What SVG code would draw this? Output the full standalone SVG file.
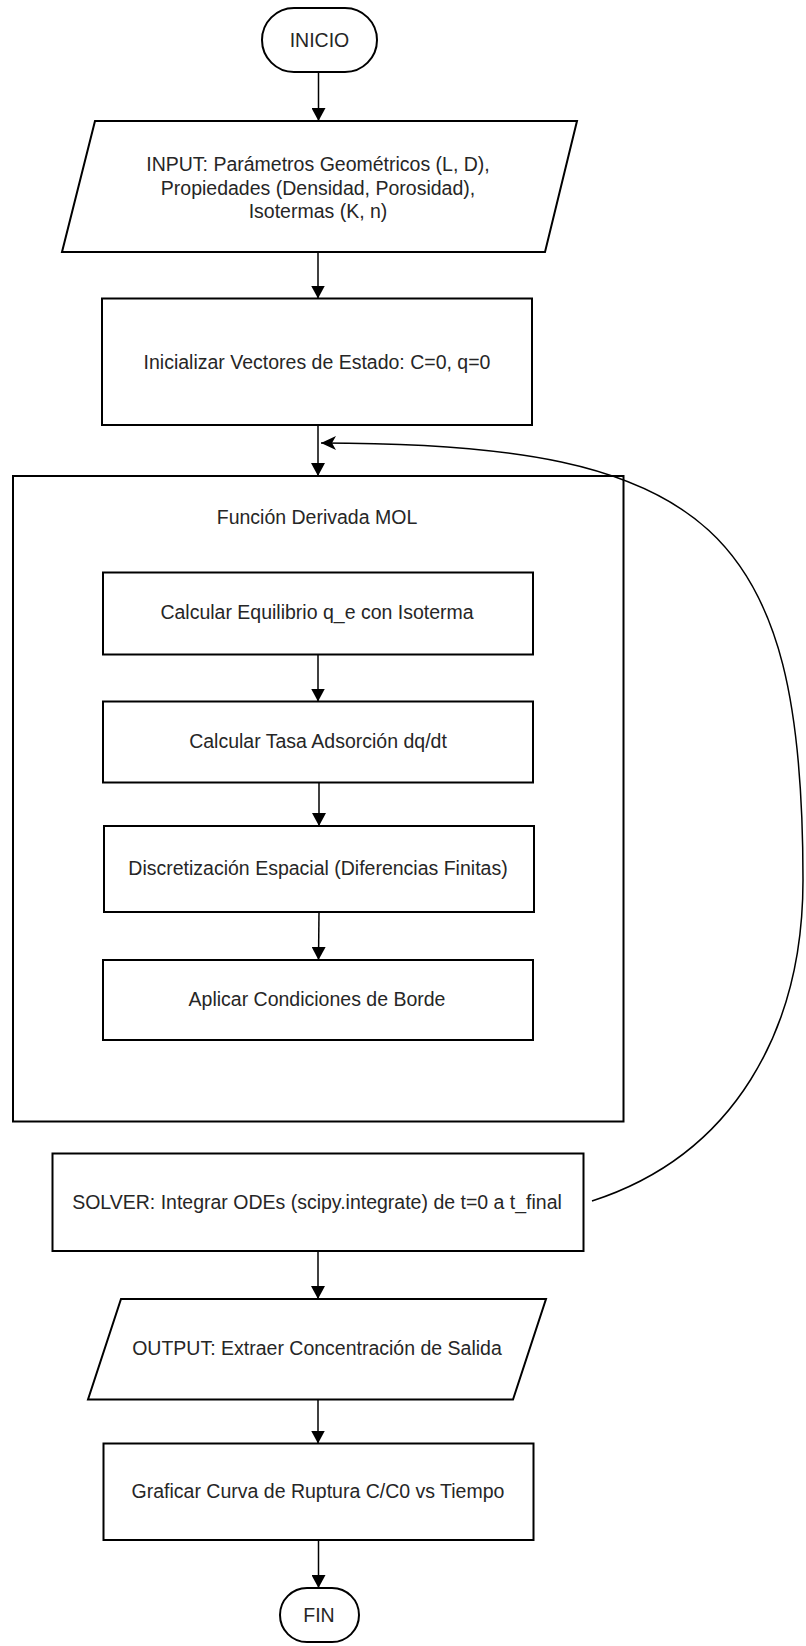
<svg xmlns="http://www.w3.org/2000/svg" width="806" height="1646" viewBox="0 0 806 1646">
<style>
.shape{fill:#fff;stroke:#000;stroke-width:2}
.cont{fill:none;stroke:#000;stroke-width:2}
.lbl{font-family:"Liberation Sans",Arial,Helvetica,sans-serif;font-size:19.5px;fill:#262626;text-anchor:middle}
.edge{fill:none;stroke:#000;stroke-width:1.5}
</style>
<defs>
<marker id="block" viewBox="0 0 13 14" refX="13" refY="7" markerWidth="13" markerHeight="14" markerUnits="userSpaceOnUse" orient="auto">
<path d="M0,0 L13,7 L0,14 z" fill="#000"/>
</marker>
<marker id="classic" viewBox="0 0 15 14" refX="15" refY="7" markerWidth="15" markerHeight="14" markerUnits="userSpaceOnUse" orient="auto">
<path d="M0,0 L15,7 L0,14 L4,7 z" fill="#000"/>
</marker>
</defs>
<rect width="806" height="1646" fill="#fff"/>

<g id="contenedor-mol">
<rect class="cont" x="13" y="476" width="610.5" height="645.5"/>
<text class="lbl" x="317" y="523.5">Función Derivada MOL</text>
</g>

<g id="inicio">
<rect class="shape" x="262" y="8" width="115" height="64" rx="32" ry="32"/>
<text class="lbl" x="319.5" y="46.8">INICIO</text>
</g>

<g id="input">
<polygon class="shape" points="95,121 577,121 545,252 62,252"/>
<text class="lbl" x="318" y="171.4">INPUT: Parámetros Geométricos (L, D),</text>
<text class="lbl" x="318" y="194.8">Propiedades (Densidad, Porosidad),</text>
<text class="lbl" x="318" y="218.2">Isotermas (K, n)</text>
</g>

<g id="inicializar">
<rect class="shape" x="102" y="298.5" width="430" height="126.5"/>
<text class="lbl" x="317" y="368.8">Inicializar Vectores de Estado: C=0, q=0</text>
</g>

<g id="equilibrio">
<rect class="shape" x="103" y="572.5" width="430" height="82"/>
<text class="lbl" x="317" y="618.8">Calcular Equilibrio q_e con Isoterma</text>
</g>

<g id="tasa">
<rect class="shape" x="103" y="701.5" width="430" height="81"/>
<text class="lbl" x="318" y="747.8">Calcular Tasa Adsorción dq/dt</text>
</g>

<g id="discretizacion">
<rect class="shape" x="104" y="826" width="430" height="86"/>
<text class="lbl" x="318" y="875">Discretización Espacial (Diferencias Finitas)</text>
</g>

<g id="condiciones">
<rect class="shape" x="103" y="960" width="430" height="80"/>
<text class="lbl" x="317" y="1006">Aplicar Condiciones de Borde</text>
</g>

<g id="solver">
<rect class="shape" x="52.5" y="1153.5" width="531" height="97.5"/>
<text class="lbl" x="317" y="1208.5">SOLVER: Integrar ODEs (scipy.integrate) de t=0 a t_final</text>
</g>

<g id="output">
<polygon class="shape" points="121,1299 546,1299 513,1399.5 88,1399.5"/>
<text class="lbl" x="317" y="1355">OUTPUT: Extraer Concentración de Salida</text>
</g>

<g id="graficar">
<rect class="shape" x="103.5" y="1443.5" width="430" height="96.5"/>
<text class="lbl" x="318" y="1497.5">Graficar Curva de Ruptura C/C0 vs Tiempo</text>
</g>

<g id="fin">
<rect class="shape" x="280" y="1588" width="79" height="54" rx="27" ry="27"/>
<text class="lbl" x="319" y="1622">FIN</text>
</g>

<g id="connectors">
<line class="edge" x1="318.5" y1="72" x2="318.5" y2="121" marker-end="url(#block)"/>
<line class="edge" x1="318" y1="252" x2="318" y2="298.5" marker-end="url(#block)"/>
<line class="edge" x1="318" y1="425" x2="318" y2="476" marker-end="url(#block)"/>
<line class="edge" x1="318" y1="654.5" x2="318" y2="701.5" marker-end="url(#block)"/>
<line class="edge" x1="319" y1="782.5" x2="319" y2="826" marker-end="url(#block)"/>
<line class="edge" x1="319" y1="912" x2="318.5" y2="960" marker-end="url(#block)"/>
<line class="edge" x1="318" y1="1251" x2="318" y2="1299" marker-end="url(#block)"/>
<line class="edge" x1="318" y1="1399.5" x2="318" y2="1443.5" marker-end="url(#block)"/>
<line class="edge" x1="318.5" y1="1540" x2="318.5" y2="1588" marker-end="url(#block)"/>
<path class="edge" d="M592,1201 C734,1155 803,1030 803,880 C803,530 712,443 321,443" marker-end="url(#classic)"/>
</g>
</svg>
